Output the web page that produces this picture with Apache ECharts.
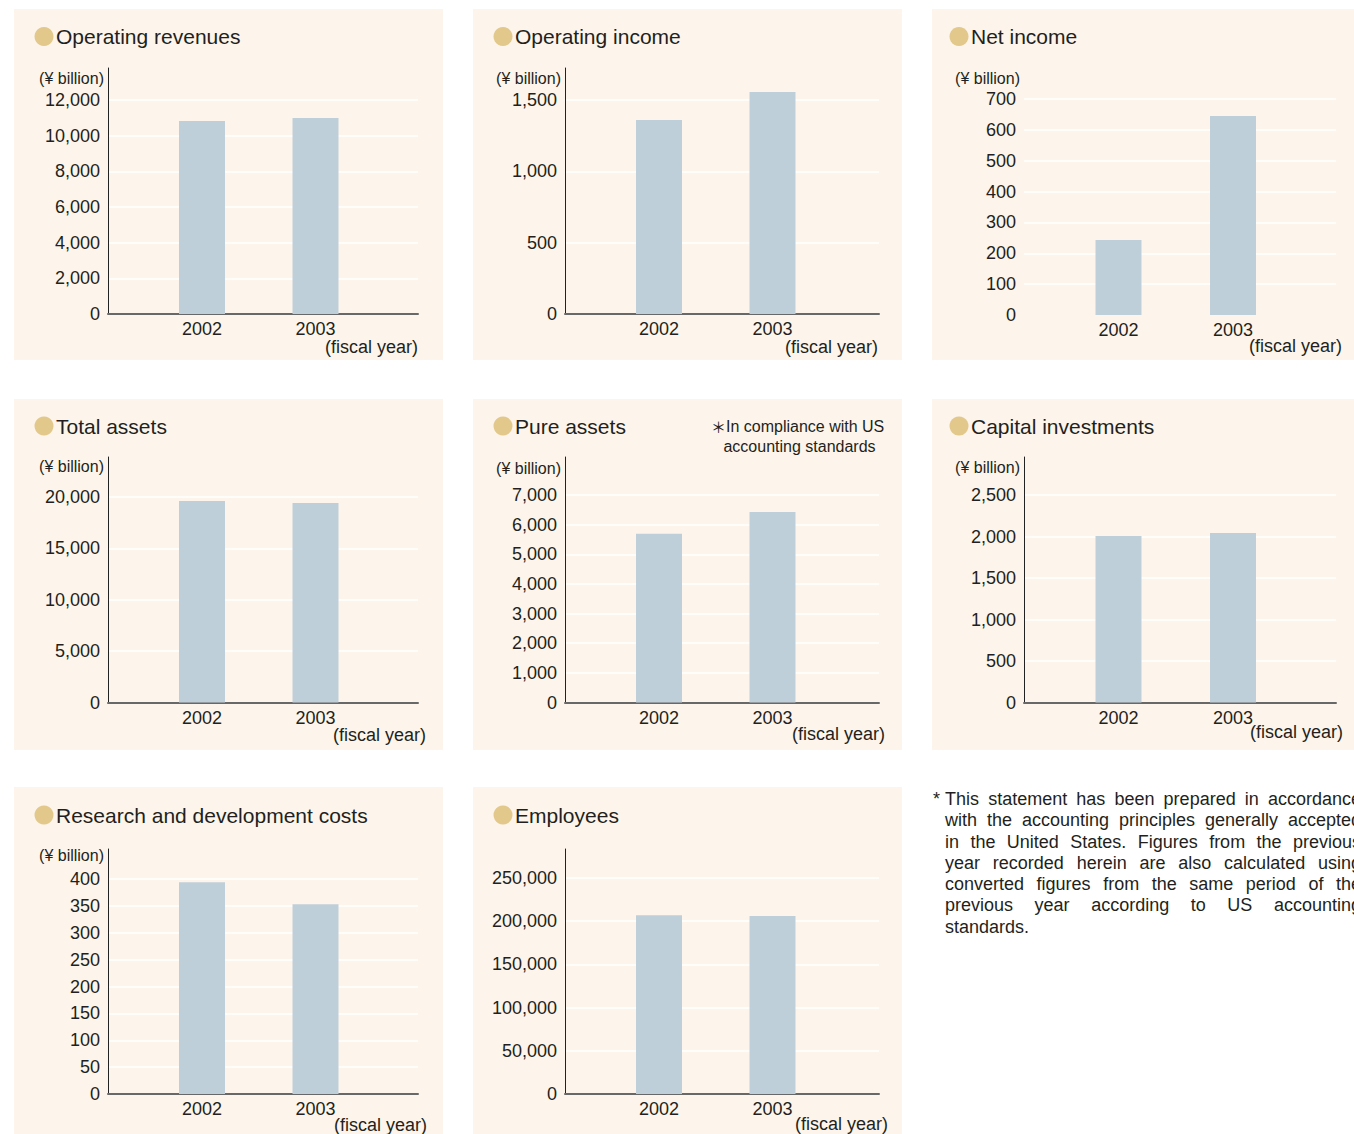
<!DOCTYPE html>
<html>
<head>
<meta charset="utf-8">
<script src="https://cdn.jsdelivr.net/npm/echarts@6/dist/echarts.min.js"></script>
<style>
  html, body { margin: 0; padding: 0; background: #fff; overflow: hidden; }
  #main { position: absolute; left: 0; top: 0; width: 1354px; height: 1134px; }
  #note { position: absolute; left: 945px; top: 789px; width: 416px;
          font: 18px 'Liberation Sans', Arial, sans-serif; line-height: 21.3px; color: #231f20; }
  #note .l { text-align: justify; text-align-last: justify; }
  #note .last { text-align: left; }
  #note .star { position: absolute; left: -12px; top: 0; }
</style>
</head>
<body>
<div id="main"></div>
<div id="note">
  <span class="star">*</span>
  <div class="l">This statement has been prepared in accordance</div>
  <div class="l">with the accounting principles generally accepted</div>
  <div class="l">in the United States. Figures from the previous</div>
  <div class="l">year recorded herein are also calculated using</div>
  <div class="l">converted figures from the same period of the</div>
  <div class="l">previous year according to US accounting</div>
  <div class="last">standards.</div>
</div>
<script>
var myChart = echarts.init(document.getElementById('main'), null, {renderer: 'svg'});

// fiscal years on the x axis
var years = [2002, 2003];

// values
var operatingRevenues = [10820, 10990];
var operatingIncome = [1360, 1556];
var netIncome = [243, 645];
var totalAssets = [19610, 19415];
var pureAssets = [5690, 6430];
var capitalInvestments = [2007, 2043];
var rdCosts = [394, 353];
var employees = [207000, 206000];

// y tick labels per chart
var revenueTicks = [0, 2000, 4000, 6000, 8000, 10000, 12000];
var incomeTicks = [0, 500, 1000, 1500];
var netIncomeTicks = [0, 100, 200, 300, 400, 500, 600, 700];
var assetTicks = [0, 5000, 10000, 15000, 20000];
var pureAssetTicks = [0, 1000, 2000, 3000, 4000, 5000, 6000, 7000];
var capexTicks = [0, 500, 1000, 1500, 2000, 2500];
var rdTicks = [0, 50, 100, 150, 200, 250, 300, 350, 400];
var employeeTicks = [0, 50000, 100000, 150000, 200000, 250000];

var FONT = '"Liberation Sans", Arial, Helvetica, sans-serif';
var TXT = '#231f20';
var BG = '#fdf5eb';
var BAR = '#bfcfd9';
var DOT = '#e2c88b';

// layout of the 3x3 panel grid
var cols = [
    {bgX: 14, bgW: 429, L: 108, R: 418, c1: 202, c2: 315.5, dotX: 44, titleX: 56},
    {bgX: 473, bgW: 429, L: 565, R: 879, c1: 659, c2: 772.5, dotX: 503, titleX: 515},
    {bgX: 932, bgW: 422, L: 1024, R: 1336, c1: 1118.5, c2: 1233, dotX: 959, titleX: 971}
];
var rows = [
    {bgY: 9, bgH: 351, top: 68, base: 314, titleY: 36.5},
    {bgY: 399, bgH: 351, top: 457, base: 702.5, titleY: 426},
    {bgY: 787, bgH: 347, top: 849, base: 1094, titleY: 815}
];

var panels = [
    {title: 'Operating revenues', values: operatingRevenues, ticks: revenueTicks, col: 0, row: 0, tickY: 100, unitY: 78, fyR: 418, fyY: 347},
    {title: 'Operating income', values: operatingIncome, ticks: incomeTicks, col: 1, row: 0, tickY: 100, unitY: 78, fyR: 878, fyY: 347},
    {title: 'Net income', values: netIncome, ticks: netIncomeTicks, col: 2, row: 0, tickY: 99, top: 99, base: 315, noAxis: true, unitY: 78, fyR: 1342, fyY: 346},
    {title: 'Total assets', values: totalAssets, ticks: assetTicks, col: 0, row: 1, tickY: 497, unitY: 466, fyR: 426, fyY: 735},
    {title: 'Pure assets', values: pureAssets, ticks: pureAssetTicks, col: 1, row: 1, tickY: 495, unitY: 468, fyR: 885, fyY: 734},
    {title: 'Capital investments', values: capitalInvestments, ticks: capexTicks, col: 2, row: 1, tickY: 495, unitY: 467, fyR: 1343, fyY: 732},
    {title: 'Research and development costs', values: rdCosts, ticks: rdTicks, col: 0, row: 2, tickY: 879, unitY: 855, fyR: 427, fyY: 1125},
    {title: 'Employees', values: employees, ticks: employeeTicks, col: 1, row: 2, tickY: 878, noUnit: true, fyR: 888, fyY: 1124}
];

var grids = [], xAxes = [], yAxes = [], series = [], graphics = [];

// panel backgrounds first so they sit under everything
cols.forEach(function (c, ci) {
    rows.forEach(function (r, ri) {
        if (ci === 2 && ri === 2) return;
        graphics.push({type: 'rect', z: -10, shape: {x: c.bgX, y: r.bgY, width: c.bgW, height: r.bgH}, style: {fill: BG}});
    });
});

panels.forEach(function (p, i) {
    var c = cols[p.col], r = rows[p.row];
    var top = p.top != null ? p.top : r.top;
    var base = p.base != null ? p.base : r.base;
    var topTick = p.ticks[p.ticks.length - 1];
    var yMax = topTick * (base - top) / (base - p.tickY);
    var d = c.c2 - c.c1;
    var xMin = years[0] - (c.c1 - c.L) / d;
    var xMax = years[1] + (c.R - c.c2) / d;

    grids.push({left: c.L, top: top, width: c.R - c.L, height: base - top, containLabel: false, outerBoundsMode: 'none'});

    xAxes.push({
        gridIndex: i, type: 'value', min: xMin, max: xMax,
        axisLine: {show: !p.noAxis, onZero: false, lineStyle: {color: '#686868', width: 2}},
        axisTick: {show: false},
        splitLine: {show: false},
        axisLabel: {customValues: years, formatter: function (v) { return String(v); },
            margin: 6, fontSize: 18, color: TXT, fontFamily: FONT}
    });

    yAxes.push({
        gridIndex: i, type: 'value', min: 0, max: yMax,
        axisLine: {show: !p.noAxis, lineStyle: {color: '#222', width: 1}},
        axisTick: {show: false, customValues: p.ticks},
        axisLabel: {customValues: p.ticks, margin: 8, fontSize: 18, color: TXT, fontFamily: FONT,
            padding: [4, 0, 0, 0],
            formatter: function (v) { return v.toLocaleString('en-US'); }},
        splitLine: {show: true, showMinLine: false,
            lineStyle: {color: '#ffffff', width: 1.5}}
    });

    series.push({
        type: 'bar', xAxisIndex: i, yAxisIndex: i, barWidth: 46,
        itemStyle: {color: BAR},
        data: years.map(function (y, k) { return [y, p.values[k]]; })
    });

    graphics.push({type: 'circle', shape: {cx: c.dotX, cy: r.titleY, r: 9.5}, style: {fill: DOT}});
    graphics.push({type: 'text', x: c.titleX, y: r.titleY,
        style: {text: p.title, fill: TXT, font: '21px ' + FONT, align: 'left', verticalAlign: 'middle'}});
    if (!p.noUnit) {
        graphics.push({type: 'text', x: c.L - 4, y: p.unitY,
            style: {text: '(¥ billion)', fill: TXT, font: '16px ' + FONT, align: 'right', verticalAlign: 'middle'}});
    }
    graphics.push({type: 'text', x: p.fyR, y: p.fyY,
        style: {text: '(fiscal year)', fill: TXT, font: '18px ' + FONT, align: 'right', verticalAlign: 'middle'}});
});

// note on the pure assets panel
graphics.push({type: 'text', x: 711, y: 426,
    style: {text: '＊', fill: TXT, font: '15px "Noto Sans CJK JP", sans-serif', align: 'left', verticalAlign: 'middle'}});
graphics.push({type: 'text', x: 726, y: 426,
    style: {text: 'In compliance with US', fill: TXT, font: '16px ' + FONT, align: 'left', verticalAlign: 'middle'}});
graphics.push({type: 'text', x: 799.5, y: 446,
    style: {text: 'accounting standards', fill: TXT, font: '16px ' + FONT, align: 'center', verticalAlign: 'middle'}});

option = {
    backgroundColor: '#ffffff',
    animation: false,
    textStyle: {fontFamily: FONT},
    grid: grids,
    xAxis: xAxes,
    yAxis: yAxes,
    series: series,
    graphic: graphics
};

myChart.setOption(option);
</script>
</body>
</html>
